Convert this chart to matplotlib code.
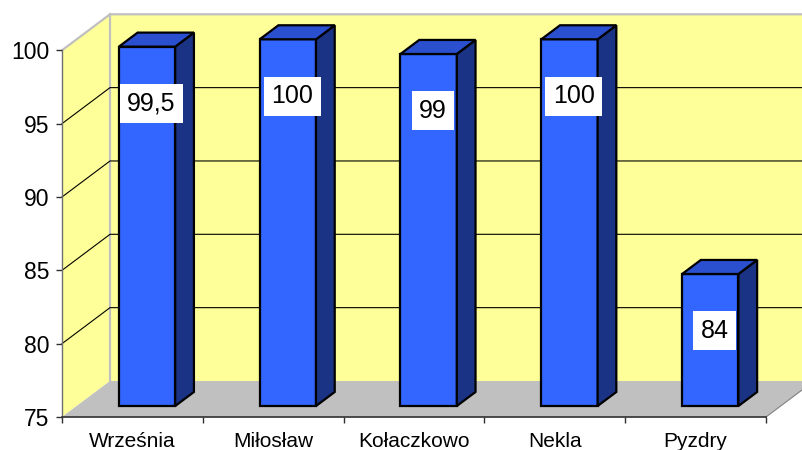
import matplotlib
matplotlib.use("Agg")
import matplotlib.pyplot as plt
from matplotlib.patches import Polygon

plt.rcParams['font.family'] = ['Liberation Sans', 'DejaVu Sans']

# Data
categories = ["Września", "Miłosław", "Kołaczkowo", "Nekla", "Pyzdry"]
values = [99.5, 100, 99, 100, 84]
y_ticks = [75, 80, 85, 90, 95, 100]
y_min, y_max = 75, 100

# Colours
wall_color = "#FFFF99"
floor_color = "#C0C0C0"
wall_edge = "#C0C0C0"
front_color = "#3366FF"
side_color = "#1B3385"
top_color = "#2A50D0"

# Oblique projection of depth, in data units (x: categories, y: values)
DX = 0.341
DY = 2.455
BAR_W = 0.40
D0, D1 = 0.305, 0.695  # bar depth span as fraction of full depth

W, H = 803, 450
fig = plt.figure(figsize=(W / 100, H / 100), dpi=100)
ax = fig.add_axes([62 / W, 33 / H, 704 / W, 366.7 / H])
ax.set_xlim(-0.5, len(categories) - 0.5)
ax.set_ylim(y_min, y_max)
ax.patch.set_visible(False)

x0, x1 = -0.5, len(categories) - 0.5

def poly(pts, fc, ec="none", lw=0.0, z=1):
    p = Polygon(pts, closed=True, facecolor=fc, edgecolor=ec, linewidth=lw,
                zorder=z, clip_on=False, joinstyle="miter")
    ax.add_patch(p)

# Back wall
poly([(x0 + DX, y_min + DY), (x1 + DX, y_min + DY),
      (x1 + DX, y_max + DY), (x0 + DX, y_max + DY)], wall_color, z=0.2)
# Side wall
poly([(x0, y_min), (x0 + DX, y_min + DY), (x0 + DX, y_max + DY), (x0, y_max)],
     wall_color, z=0.2)
# Floor
poly([(x0, y_min), (x1, y_min), (x1 + DX, y_min + DY), (x0 + DX, y_min + DY)],
     floor_color, z=0.3)

# Wall borders
ax.plot([x0, x0 + DX, x1 + DX], [y_max, y_max + DY, y_max + DY],
        color=wall_edge, lw=1.6, clip_on=False, zorder=0.5)
ax.plot([x0 + DX, x0 + DX], [y_min + DY, y_max + DY],
        color=wall_edge, lw=1.6, clip_on=False, zorder=0.5)
ax.plot([x1, x1 + DX], [y_min, y_min + DY],
        color="#808080", lw=0.8, clip_on=False, zorder=0.5)

# Gridlines on side and back walls
for v in y_ticks:
    if v in (y_min, y_max):
        continue
    ax.plot([x0, x0 + DX, x1 + DX], [v, v + DY, v + DY],
            color="black", lw=0.8, clip_on=False, zorder=0.6)

# Bars as prisms
for i, v in enumerate(values):
    xl = i - BAR_W / 2 + D0 * DX
    xr = i + BAR_W / 2 + D0 * DX
    yb = y_min + D0 * DY
    yt = v + D0 * DY
    ddx = (D1 - D0) * DX
    ddy = (D1 - D0) * DY
    z = 3 + i * 0.1
    poly([(xl, yb), (xr, yb), (xr, yt), (xl, yt)], front_color, "black", 1.6, z)
    poly([(xr, yb), (xr + ddx, yb + ddy), (xr + ddx, yt + ddy), (xr, yt)],
         side_color, "black", 1.6, z)
    poly([(xl, yt), (xr, yt), (xr + ddx, yt + ddy), (xl + ddx, yt + ddy)],
         top_color, "black", 1.6, z)
    label = f"{v:g}".replace(".", ",")
    ax.annotate(label, xy=(i, v), xytext=(19, -46), textcoords="offset pixels",
                ha="center", va="center", fontsize=18, color="black",
                bbox=dict(boxstyle="square,pad=0.3", fc="white", ec="none"),
                zorder=10, annotation_clip=False)

# Axes, ticks and labels
for s in ("top", "right"):
    ax.spines[s].set_visible(False)
ax.spines["left"].set_color("#707070")
ax.spines["bottom"].set_color("#303030")
ax.spines["left"].set_linewidth(1.0)
ax.spines["bottom"].set_linewidth(1.2)
ax.spines["left"].set_zorder(2)
ax.spines["bottom"].set_zorder(2)

ax.set_yticks(y_ticks)
ax.set_yticklabels([str(t) for t in y_ticks])
ax.tick_params(axis="y", direction="out", length=4, width=1, color="#303030",
               pad=5, labelsize=16.5)

ax.set_xticks([k - 0.5 for k in range(len(categories) + 1)])
ax.set_xticklabels([])
ax.set_xticks(range(len(categories)), minor=True)
ax.set_xticklabels(categories, minor=True)
ax.tick_params(axis="x", which="major", direction="out", length=4, width=1,
               color="#303030")
ax.tick_params(axis="x", which="minor", length=0, pad=10.5, labelsize=15)

fig.savefig("out.png", dpi=100)
